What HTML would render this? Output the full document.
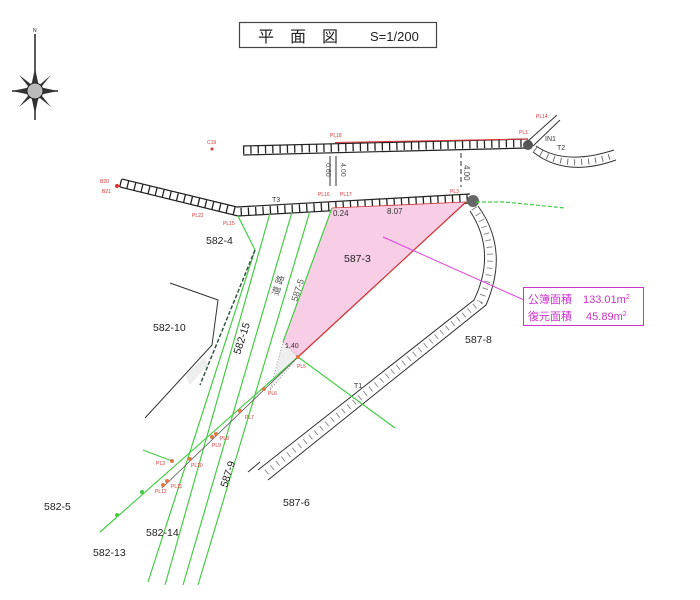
<!DOCTYPE html>
<html><head><meta charset="utf-8"><style>
body{margin:0;background:#fff;}
svg{display:block;}
text{font-family:"Liberation Sans","Noto Sans CJK JP",sans-serif;}
</style></head><body>
<svg width="700" height="600" viewBox="0 0 700 600" xmlns="http://www.w3.org/2000/svg">
<rect width="700" height="600" fill="#fff"/>
<!-- title -->
<rect x="239.5" y="22.5" width="197" height="25" fill="none" stroke="#444" stroke-width="1.2"/>
<text x="258" y="42" font-size="16" fill="#222" font-family="Noto Sans CJK JP,sans-serif">平　面　図</text>
<text x="370" y="41" font-size="13" fill="#222">S=1/200</text>
<!-- compass -->
<g stroke="#222" fill="#222">
<line x1="35" y1="34" x2="35" y2="120" stroke-width="1.5"/>
<line x1="12" y1="91" x2="58" y2="91" stroke-width="1.5"/>
<polygon points="35,68 39,87 58,91 39,95 35,114 31,95 12,91 31,87" fill="#333" stroke="none"/>
<polygon points="19,75 36,88 51,75 38,91 51,107 35,94 19,107 32,91" fill="#333" stroke="none"/>
<circle cx="35" cy="91" r="8" fill="#bbb" stroke="#222"/>
</g>
<text x="33" y="32" font-size="5" fill="#222">N</text>
<!-- top road -->
<line x1="243" y1="150" x2="528" y2="143" stroke="#222" stroke-width="8" stroke-dasharray="1.3 6"/>
<line x1="243" y1="146" x2="528" y2="139" stroke="#222" stroke-width="1.2"/>
<line x1="243" y1="155" x2="528" y2="148" stroke="#222" stroke-width="1.2"/>
<line x1="335" y1="142.5" x2="528" y2="139" stroke="#d33" stroke-width="1"/>
<circle cx="528" cy="145" r="5" fill="#555"/>
<line x1="528" y1="141" x2="557" y2="115" stroke="#333"/>
<line x1="533" y1="146" x2="560" y2="120" stroke="#333"/>
<path d="M536,146 Q565,166 614,150" fill="none" stroke="#333"/>
<path d="M533,152 Q566,178 616,160" fill="none" stroke="#333"/>
<path d="M535,149 Q566,172 615,155" fill="none" stroke="#333" stroke-width="6" stroke-dasharray="1 6" opacity="0.7"/>
<!-- second road -->
<polyline points="120,183 238,212 470,198" fill="none" stroke="#222" stroke-width="8" stroke-dasharray="1.3 6"/>
<polyline points="122,179 237,207 470,194" fill="none" stroke="#222" stroke-width="1.2"/>
<polyline points="120,187 238,216 470,203" fill="none" stroke="#222" stroke-width="1.2"/>
<circle cx="473" cy="201" r="6" fill="#666"/>
<!-- curved right road -->
<path d="M478,206 Q510,250 486,305 L268,480" fill="none" stroke="#333" stroke-width="1"/>
<path d="M470,211 Q497,252 474,300 L258,470" fill="none" stroke="#333" stroke-width="1"/>
<path d="M474,208 Q503,251 480,302 L263,475" fill="none" stroke="#444" stroke-width="6" stroke-dasharray="1 6" opacity="0.6"/>
<path d="M260,462 L248,472" stroke="#333"/>
<!-- pink parcel -->
<polygon points="332,208 466,202 298,357 283,342" fill="#f8cde6"/>
<line x1="466" y1="202" x2="298" y2="357" stroke="#c33" stroke-width="1.2"/>
<line x1="332" y1="208" x2="466" y2="202" stroke="#c33" stroke-width="0.8"/>
<polygon points="283,342 298,357 270,390" fill="#eee" stroke="#666" stroke-width="0.6" stroke-dasharray="1 2"/>
<!-- 582-10 -->
<polyline points="170,283 218,300 212,345 145,418" fill="none" stroke="#333" stroke-width="1"/>
<polygon points="185,375 205,357 208,365 190,385" fill="#eee"/>
<!-- green lines -->
<g stroke="#4c4" stroke-width="1.2" fill="none">
<polyline points="238,216 255,250 148,582"/>
<line x1="270" y1="213" x2="165" y2="585"/>
<line x1="292" y1="212" x2="183" y2="585"/>
<line x1="310" y1="211" x2="198" y2="585"/>
<line x1="332" y1="208" x2="283" y2="342"/>
<line x1="298" y1="357" x2="100" y2="532"/>
<line x1="298" y1="357" x2="395" y2="428"/>
<line x1="143" y1="450" x2="172" y2="461"/>
<polyline points="476,202 505,202 565,208" stroke-dasharray="4 2"/>
</g>
<line x1="255" y1="250" x2="200" y2="385" stroke="#354" stroke-width="1.5" stroke-dasharray="4 2"/>
<line x1="298" y1="357" x2="162" y2="488" stroke="#555" stroke-width="0.8"/>
<g fill="#d74">
<circle cx="298" cy="357" r="2"/><circle cx="264" cy="389" r="2"/><circle cx="240" cy="411" r="2"/><circle cx="216" cy="434" r="2"/><circle cx="212" cy="437" r="2"/><circle cx="190" cy="459" r="2"/><circle cx="167" cy="481" r="2"/><circle cx="163" cy="485" r="2"/><circle cx="172" cy="461" r="2"/><circle cx="117" cy="515" r="2" fill="#4c4"/><circle cx="142" cy="492" r="2" fill="#4c4"/>
<circle cx="117" cy="186" r="2" fill="#d33"/><circle cx="212" cy="149" r="1.5" fill="#d33"/>
</g>
<!-- dims -->
<g stroke="#333"><line x1="330" y1="156" x2="330" y2="186"/><line x1="336" y1="156" x2="336" y2="186"/><line x1="461" y1="153" x2="461" y2="187" stroke-dasharray="5 3"/></g>
<text x="0" y="0" font-size="7" fill="#555" transform="translate(326,163) rotate(90)">0.60</text>
<text x="0" y="0" font-size="7" fill="#555" transform="translate(341,163) rotate(90)">4.00</text>
<text x="0" y="0" font-size="8" fill="#444" transform="translate(464,165) rotate(90)">4.00</text>
<text x="333" y="216" font-size="8" fill="#333">0.24</text>
<text x="387" y="214" font-size="8" fill="#333">8.07</text>
<text x="285" y="348" font-size="7" fill="#333">1.40</text>
<!-- magenta leader + box -->
<line x1="383" y1="237" x2="524" y2="300" stroke="#d4d" stroke-width="1"/>
<rect x="523.5" y="287.5" width="120" height="38" fill="#fff" stroke="#c3c" stroke-width="1"/>
<text x="528" y="303" font-size="11" fill="#c3c">公簿面積　133.01m<tspan font-size="7" dy="-4">2</tspan></text>
<text x="528" y="320" font-size="11" fill="#c3c">復元面積　 45.89m<tspan font-size="7" dy="-4">2</tspan></text>
<!-- labels -->
<g font-size="10.5" fill="#222">
<text x="206" y="244">582-4</text>
<text x="344" y="262">587-3</text>
<text x="153" y="331">582-10</text>
<text x="465" y="343">587-8</text>
<text x="283" y="506">587-6</text>
<text x="44" y="510">582-5</text>
<text x="146" y="536">582-14</text>
<text x="93" y="556">582-13</text>
<text transform="translate(240,355) rotate(-72)">582-15</text>
<text transform="translate(227,488) rotate(-72)">587-9</text>
<text transform="translate(297,302) rotate(-72)" font-size="9" fill="#555">587-5</text>
<text transform="translate(278,296) rotate(-72)" font-size="9" fill="#555">道 路</text>
</g>
<g font-size="7" fill="#333">
<text x="354" y="388">T1</text><text x="557" y="150">T2</text><text x="272" y="202">T3</text><text x="545" y="141">IN1</text>
</g>
<g font-size="5" fill="#d33">
<text x="330" y="137">PL18</text><text x="536" y="118">PL14</text><text x="519" y="134">PL1</text><text x="450" y="193">PL3</text>
<text x="318" y="196">PL16</text><text x="340" y="196">PL17</text><text x="192" y="217">PL22</text><text x="223" y="225">PL15</text>
<text x="100" y="183">B20</text><text x="102" y="193">B21</text><text x="207" y="144">C19</text>
<text x="297" y="368">PL5</text><text x="268" y="395">PL6</text><text x="245" y="419">PL7</text><text x="220" y="440">PL8</text><text x="212" y="447">PL9</text><text x="191" y="467">PL10</text><text x="171" y="488">PL11</text><text x="155" y="493">PL12</text><text x="156" y="465">P13</text>
</g>
</svg>
</body></html>
